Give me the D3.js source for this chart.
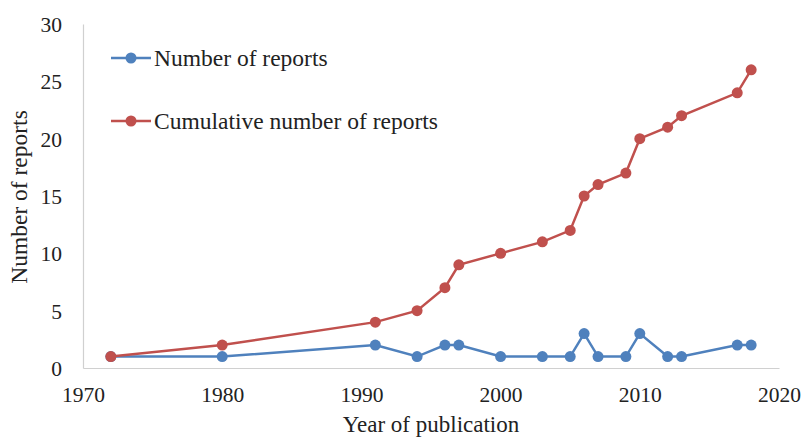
<!DOCTYPE html>
<html>
<head>
<meta charset="utf-8">
<script src="https://cdn.jsdelivr.net/npm/d3@7"></script>
<style>
  body { margin: 0; background: #fff; }
  text { font-family: "Liberation Serif", "Times New Roman", serif; fill: #222; }
</style>
</head>
<body>
<script>
// data
const years = [1972, 1980, 1991, 1994, 1996, 1997, 2000, 2003, 2005, 2006, 2007, 2009, 2010, 2012, 2013, 2017, 2018];
const reports = [1, 1, 2, 1, 2, 2, 1, 1, 1, 3, 1, 1, 3, 1, 1, 2, 2];
const cumulative = [1, 2, 4, 5, 7, 9, 10, 11, 12, 15, 16, 17, 20, 21, 22, 24, 26];
const xTicks = [1970, 1980, 1990, 2000, 2010, 2020];
const yTicks = [0, 5, 10, 15, 20, 25, 30];
const seriesNames = ["Number of reports", "Cumulative number of reports"];

const width = 806, height = 439;
const plotLeft = 83, plotRight = 779, plotTop = 24, plotBottom = 368;
const blue = "#4f81bd", red = "#c0504d";

const svg = d3.select("body").append("svg")
  .attr("width", width)
  .attr("height", height);

const xScale = d3.scaleLinear().domain([1970, 2020]).range([plotLeft, plotRight]);
const yScale = d3.scaleLinear().domain([0, 30]).range([plotBottom, plotTop]);

// axes
const xAxis = d3.axisBottom(xScale).tickValues(xTicks).tickFormat(d3.format("d")).tickSize(0).tickPadding(19);
const yAxis = d3.axisLeft(yScale).tickValues(yTicks).tickSize(0).tickPadding(21);

const gx = svg.append("g").attr("transform", "translate(0," + plotBottom + ")").call(xAxis);
const gy = svg.append("g").attr("transform", "translate(" + plotLeft + ",0)").call(yAxis);
[gx, gy].forEach((g) => {
  g.select(".domain").attr("stroke", "#d0d0d0").attr("stroke-width", 1.2);
  g.selectAll("text").style("font-size", "21.5px").attr("fill", "#222");
});
gy.selectAll("text").attr("dy", "0.35em");

// axis titles
svg.append("text")
  .attr("x", 431)
  .attr("y", 432)
  .attr("text-anchor", "middle")
  .style("font-size", "23px")
  .text("Year of publication");

svg.append("text")
  .attr("transform", "translate(27," + 197 + ") rotate(-90)")
  .attr("text-anchor", "middle")
  .style("font-size", "23.5px")
  .text("Number of reports");

// lines + markers
const line = d3.line()
  .x((d) => xScale(d[0]))
  .y((d) => yScale(d[1]));

const drawSeries = (vals, color) => {
  const pts = years.map((y, i) => [y, vals[i]]);
  svg.append("path")
    .datum(pts)
    .attr("d", line)
    .attr("fill", "none")
    .attr("stroke", color)
    .attr("stroke-width", 2.5);
  svg.append("g")
    .selectAll("circle")
    .data(pts)
    .enter()
    .append("circle")
    .attr("cx", (d) => xScale(d[0]))
    .attr("cy", (d) => yScale(d[1]))
    .attr("r", 5.5)
    .attr("fill", color);
};

drawSeries(reports, blue);
drawSeries(cumulative, red);

// legend
const legend = svg.append("g");
[[blue, 58], [red, 121]].forEach((c, i) => {
  legend.append("line")
    .attr("x1", 111).attr("x2", 151)
    .attr("y1", c[1]).attr("y2", c[1])
    .attr("stroke", c[0]).attr("stroke-width", 2.5);
  legend.append("circle")
    .attr("cx", 131).attr("cy", c[1]).attr("r", 5.5)
    .attr("fill", c[0]);
  legend.append("text")
    .attr("x", 154).attr("y", c[1])
    .attr("dy", "0.35em")
    .style("font-size", "23.5px")
    .text(seriesNames[i]);
});
</script>
</body>
</html>
